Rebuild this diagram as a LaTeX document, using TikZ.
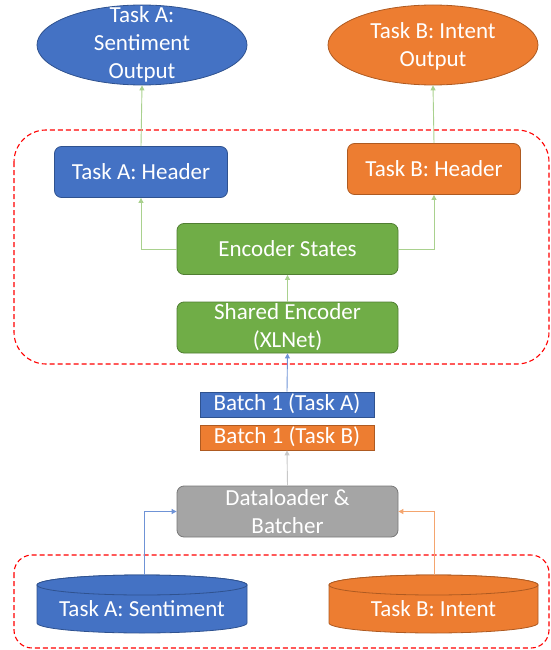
\documentclass[tikz,border=0pt]{standalone}
\usepackage{fontspec}
\setmainfont{Carlito}
\usetikzlibrary{arrows.meta,shapes.geometric}
\definecolor{cblue}{HTML}{4472C4}
\definecolor{cbluedk}{HTML}{2F528F}
\definecolor{corange}{HTML}{ED7D31}
\definecolor{corangedk}{HTML}{AE5A21}
\definecolor{cgreen}{HTML}{70AD47}
\definecolor{cgreendk}{HTML}{507E32}
\definecolor{cgray}{HTML}{A5A5A5}
\definecolor{cgraydk}{HTML}{787878}
\definecolor{lgreen}{HTML}{A9D18E}
\definecolor{lblue}{HTML}{6F93D6}
\definecolor{lorange}{HTML}{F4A56E}
\definecolor{lgray}{HTML}{C8C8C8}
\tikzset{
  txt/.style={font=\fontsize{23}{28}\selectfont, text=white, align=center, inner sep=0pt},
  rbox/.style={rounded corners=7pt, line width=0.8pt, minimum width=#1, minimum height=51pt, inner sep=0pt, font=\fontsize{23}{28}\selectfont, text=white, align=center},
  bluebox/.style={fill=cblue, draw=cbluedk},
  orangebox/.style={fill=corange, draw=corangedk},
  greenbox/.style={fill=cgreen, draw=cgreendk},
  graybox/.style={fill=cgray, draw=cgraydk},
  batchbox/.style={minimum width=174pt, minimum height=25pt, text height=16pt, text depth=5pt, inner sep=0pt, line width=0.8pt, font=\fontsize{23}{26}\selectfont, text=white},
  oval/.style={ellipse, minimum width=210pt, minimum height=80pt, inner sep=0pt, line width=0.8pt},
  conn/.style={line width=0.9pt, -{Triangle[width=5pt,length=5pt]}},
  grp/.style={draw=red, line width=1.1pt, rounded corners=32pt, dash pattern=on 5pt off 3pt}
}
\begin{document}
\begin{tikzpicture}[x=1pt,y=-1pt]
\useasboundingbox (0,0) rectangle (550,650);
% group boxes
\draw[grp] (14,130) rectangle (549,364);
\draw[grp, rounded corners=18pt] (14,555) rectangle (549,648);
% outputs
\node[oval, bluebox] (outA) at (142,45) {};
\node[txt] (outAt) at (142,44) {Task A:\\Sentiment\\Output};
\node[oval, orangebox] (outB) at (433,45) {};
\node[txt] (outBt) at (433,46) {Task B: Intent\\Output};
% headers
\node[rbox=173pt, bluebox] (hA) at (141,172) {Task A: Header};
\node[rbox=173pt, orangebox] (hB) at (434,169) {Task B: Header};
% encoder
\node[rbox=221pt, greenbox] (es) at (287.5,249) {Encoder States};
\node[rbox=221pt, greenbox] (se) at (287.5,327.5) {Shared Encoder\\(XLNet)};
% batches
\node[batchbox, bluebox] (bA) at (287,404.5) {Batch 1 (Task A)};
\node[batchbox, orangebox] (bB) at (287,437.5) {Batch 1 (Task B)};
% dataloader
\node[rbox=221pt, graybox] (dl) at (287.5,511.5) {Dataloader \&\\Batcher};
% cylinders
\coordinate (cAtop) at (144,575);
\coordinate (cBtop) at (434,575);
\begin{scope}[line width=0.8pt]
\draw[fill=cblue, draw=cbluedk] (37,585) -- (37,623) arc[start angle=180, end angle=360, x radius=105, y radius=-10] -- (247,585) arc[start angle=0, end angle=180, x radius=105, y radius=-10] -- cycle;
\draw[fill=cblue, draw=cbluedk] (142,585) ellipse[x radius=105, y radius=10];
\draw[fill=corange, draw=corangedk] (329,585) -- (329,623) arc[start angle=180, end angle=360, x radius=104.5, y radius=-10] -- (538,585) arc[start angle=0, end angle=180, x radius=104.5, y radius=-10] -- cycle;
\draw[fill=corange, draw=corangedk] (433.5,585) ellipse[x radius=104.5, y radius=10];
\end{scope}
\node[txt] (cA) at (142,609) {Task A: Sentiment};
\node[txt] (cB) at (433.5,609) {Task B: Intent};
% connectors
\draw[conn, lgreen] (hA.north) -- (outA.south);
\draw[conn, lgreen] (hB.north) -- (outB.south);
\draw[conn, lgreen] (es.west) -| (hA.south);
\draw[conn, lgreen] (es.east) -| (hB.south);
\draw[conn, lgreen] (se.north) -- (es.south);
\draw[conn, lblue] (bA.north) -- (se.south);
\draw[conn, lgray] (dl.north) -- (bB.south);
\draw[conn, lblue] (cAtop) |- (dl.west);
\draw[conn, lorange] (cBtop) |- (dl.east);
\end{tikzpicture}
\end{document}
